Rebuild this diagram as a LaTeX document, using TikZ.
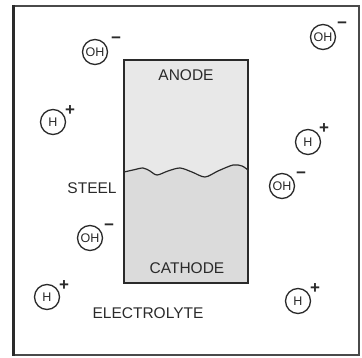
\documentclass[tikz,border=0pt]{standalone}
\usepackage{fontspec}
\setmainfont{Liberation Sans}
\definecolor{ink}{HTML}{2A2A2A}
\definecolor{topgray}{HTML}{E8E8E8}
\definecolor{botgray}{HTML}{DBDBDB}
\begin{document}
\begin{tikzpicture}[x=1pt,y=-1pt,
  ion/.style={circle,draw=ink,line width=1.3pt,minimum size=25pt,inner sep=0pt,
    text=ink,font=\fontsize{12.5}{13}\selectfont},
  charge/.style={text=ink,inner sep=0pt,font=\fontsize{17}{18}\selectfont\bfseries},
  label/.style={text=ink,inner sep=0pt,font=\fontsize{15.5}{17}\selectfont}]
\useasboundingbox (0,0) rectangle (362,358);
% frame
\draw[ink!85,line width=1.8pt] (13,6) -- (359,6) -- (359,355) -- (13,355);
\draw[ink,line width=3pt] (13,5) -- (13,356);
% steel block
\fill[topgray] (124,60) rectangle (248,283);
\fill[botgray] plot[smooth] coordinates {(124,172) (133,170) (143,168) (150,171) (157,175) (168,171) (180,168) (192,172) (205,177) (218,171) (233,165) (242,166) (248,170)}
  -- (248,283) -- (124,283) -- cycle;
\draw[ink,line width=1.2pt] plot[smooth] coordinates {(124,172) (133,170) (143,168) (150,171) (157,175) (168,171) (180,168) (192,172) (205,177) (218,171) (233,165) (242,166) (248,170)};
\node[draw=ink,line width=1.2pt,minimum width=124pt,minimum height=223pt,inner sep=0pt] (block) at (186,171.5) {};
% labels
\node[label] (anode) at (186,75) {ANODE};
\node[label] (cathode) at (187,268) {CATHODE};
\node[label] (steel) at (92,188) {STEEL};
\node[label] (electrolyte) at (148,313) {ELECTROLYTE};
% ions
\node[ion] (oh1) at (95,52) {OH};
\node[charge] (oh1c) at (116,40) {−};
\node[ion] (oh2) at (323,37) {OH};
\node[charge] (oh2c) at (342,25) {−};
\node[ion] (h1) at (53,122) {H};
\node[charge] (h1c) at (70,111) {+};
\node[ion] (h2) at (308,142) {H};
\node[charge] (h2c) at (324,129) {+};
\node[ion] (oh3) at (282,186) {OH};
\node[charge] (oh3c) at (301,175) {−};
\node[ion] (oh4) at (90,238) {OH};
\node[charge] (oh4c) at (109,227) {−};
\node[ion] (h3) at (47,297) {H};
\node[charge] (h3c) at (64,286) {+};
\node[ion] (h4) at (298,301) {H};
\node[charge] (h4c) at (315,289) {+};
\end{tikzpicture}
\end{document}
